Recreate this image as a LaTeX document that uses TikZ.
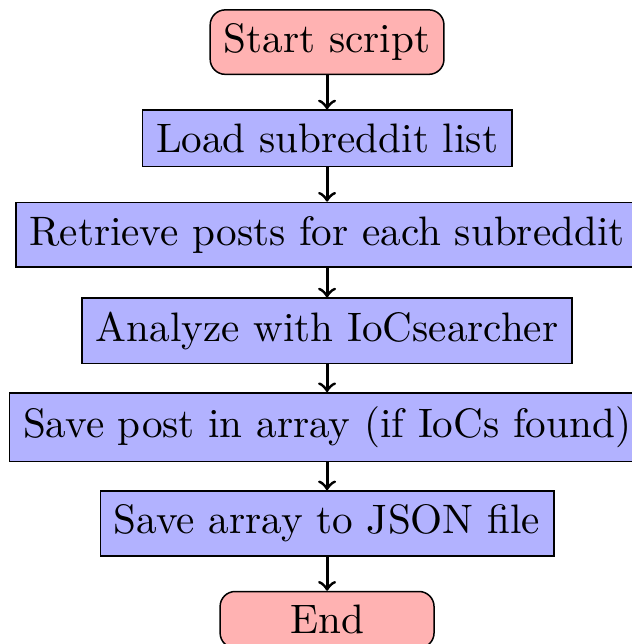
\documentclass[tikz,border=0pt,11pt]{standalone}
\usetikzlibrary{positioning}

\tikzset{
  startstop/.style={rectangle, rounded corners, minimum width=2cm, text centered, draw=black, fill=red!30},
  process/.style={rectangle, text centered, draw=black, fill=blue!30},
  arrow/.style={thick,->}
}

\begin{document}
\begin{tikzpicture}[y=0.9cm]
%set diagram window, cut on right and bottom
\useasboundingbox (-87pt,11.2pt) rectangle (81.1pt,-160.1pt);

% Nodes
\node (start) [startstop] at (0,0) {Start script};
\node (load) [process] at (0,-1) {Load subreddit list};
\node (retrieve) [process] at (0,-2) {Retrieve posts for each subreddit};
\node (analyze) [process] at (0,-3) {Analyze with IoCsearcher};
\node (savepost) [process] at (0,-4) {Save post in array (if IoCs found)};
\node (savejson) [process] at (0,-5) {Save array to JSON file};
\node (stop) [startstop] at (0,-6) {End};

% Arrows
\draw [arrow] (start) -- (load);
\draw [arrow] (load) -- (retrieve);
\draw [arrow] (retrieve) -- (analyze);
\draw [arrow] (analyze) -- (savepost);
\draw [arrow] (savepost) -- (savejson);
\draw [arrow] (savejson) -- (stop);

\end{tikzpicture}
\end{document}
